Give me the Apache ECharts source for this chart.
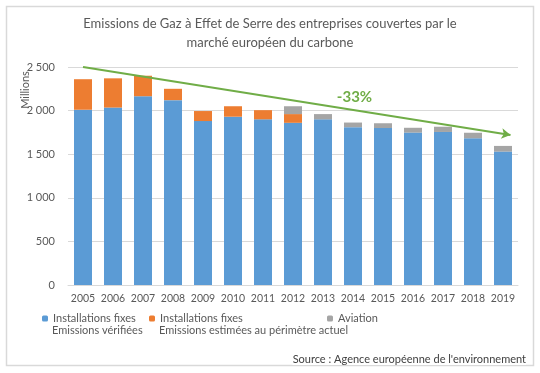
<!DOCTYPE html>
<html><head><meta charset="utf-8">
<script src="https://cdn.jsdelivr.net/npm/echarts@6/dist/echarts.min.js"></script>
<style>html,body{margin:0;padding:0;background:#fff}#c{width:540px;height:373px}</style>
</head><body><div id="c"></div>
<script>
const years = ['2005','2006','2007','2008','2009','2010','2011','2012','2013','2014','2015','2016','2017','2018','2019'];
const fixedVerified = [2010,2035,2165,2120,1880,1930,1900,1860,1900,1810,1800,1748,1755,1683,1530];
const fixedEstimated = [350,335,235,130,115,120,105,100,0,0,0,0,0,0,0];
const aviation = [0,0,0,0,0,0,0,90,60,53,55,55,60,63,65];
const yTicks = [0,500,1000,1500,2000,2500];
const trendStart = [0, 2500];
const trendEnd = [14.25, 1720];
const trendLabel = '-33%';
const trendLabelAt = [9.05, 2150];
const seriesNames = ['Installations fixes (vérifiées)','Installations fixes (estimées)','Aviation'];
const legendLine1 = ['Installations fixes','Installations fixes','Aviation'];
const legendLine2 = ['Emissions vérifiées','Emissions estimées au périmètre actuel',''];
const FONT = 'Lato';
const chart = echarts.init(document.getElementById('c'), null, {renderer:'canvas'});
function fmtNum(v){return String(v).replace(/\B(?=(\d{3})+(?!\d))/g,' ');}
const legendLeft = [42,149,327];
function legend(i){
  return {data:[seriesNames[i]], left:legendLeft[i], top:313, orient:'horizontal', padding:0,
    itemWidth:6, itemHeight:6, itemGap:4,
    formatter:function(){return legendLine1[i];},
    textStyle:{color:'#595959', fontFamily:FONT, fontSize:11}};
}
const graphics = [
  {type:'rect', left:4, top:4, shape:{width:527, height:359}, style:{fill:'none', stroke:'#d9d9d9', lineWidth:1.5}, z:-1, silent:true},
  {type:'text', x:25, y:90, rotation:Math.PI/2, style:{text:'Millions', fill:'#595959', font:'11px '+FONT, align:'center', verticalAlign:'middle'}},
  {type:'text', right:14, top:354, style:{text:"Source : Agence européenne de l'environnement", fill:'#404040', font:'11px '+FONT, backgroundColor:'#fff'}}
];
legendLine2.forEach(function(t,i){ if(t) graphics.push({type:'text', left:legendLeft[i]+10, top:325, style:{text:t, fill:'#595959', font:'11px '+FONT}}); });
chart.setOption({
  animation:false,
  textStyle:{fontFamily:FONT},
  color:['#5B9BD5','#ED7D31','#A5A5A5'],
  title:{text:'Emissions de Gaz à Effet de Serre des entreprises couvertes par le\nmarché européen du carbone',
    left:'center', top:9, textStyle:{color:'#595959', fontFamily:FONT, fontSize:13, fontWeight:'normal', lineHeight:19}},
  grid:{left:68, right:22, top:67, bottom:88, containLabel:false},
  xAxis:[{type:'category', data:years, axisLine:{lineStyle:{color:'#d9d9d9'}}, axisTick:{show:false},
    axisLabel:{color:'#595959', fontSize:10.5, fontFamily:FONT, margin:8, interval:0}},
    {type:'value', min:-0.5, max:14.5, show:false}],
  yAxis:{type:'value', min:yTicks[0], max:yTicks[yTicks.length-1], interval:yTicks[1]-yTicks[0],
    axisLine:{show:false}, axisTick:{show:false},
    splitLine:{lineStyle:{color:'#d9d9d9'}},
    axisLabel:{color:'#595959', fontSize:11, fontFamily:FONT, margin:13, formatter:fmtNum}},
  legend:[legend(0), legend(1), legend(2)],
  series:[
    {name:seriesNames[0], type:'bar', stack:'s', data:fixedVerified, barWidth:18, itemStyle:{color:'#5B9BD5'}},
    {name:seriesNames[1], type:'bar', stack:'s', data:fixedEstimated, itemStyle:{color:'#ED7D31'}},
    {name:seriesNames[2], type:'bar', stack:'s', data:aviation, itemStyle:{color:'#A5A5A5'}},
    {name:'trend', type:'line', xAxisIndex:1, data:[], silent:true,
      markLine:{silent:true, symbol:['none','arrow'], symbolSize:[8,9],
        lineStyle:{color:'#70AD47', width:2, type:'solid'}, label:{show:false},
        data:[[{coord:trendStart},{coord:trendEnd}]]},
      markPoint:{silent:true, symbol:'circle', symbolSize:0,
        label:{show:true, formatter:trendLabel, color:'#70AD47', fontSize:15, fontWeight:'bold', fontFamily:FONT},
        data:[{coord:trendLabelAt}]}}
  ],
  graphic:graphics
});
</script></body></html>
